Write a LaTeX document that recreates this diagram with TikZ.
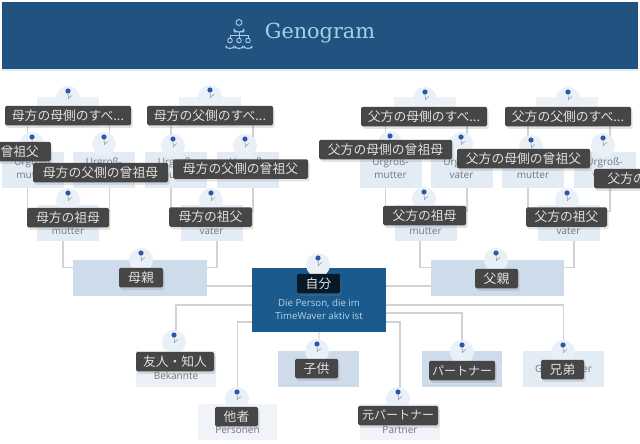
\documentclass[tikz,border=0pt]{standalone}
\usepackage{fontspec}
\setmainfont{Open Sans}
\newfontfamily\cjk{Noto Sans CJK JP}
\newfontfamily\slab{DejaVu Serif}
\usetikzlibrary{shadows}
\definecolor{hdr}{HTML}{22527F}
\definecolor{selfc}{HTML}{1B5A8C}
\definecolor{boxa}{HTML}{CEDBEB}
\definecolor{boxb}{HTML}{E3EBF4}
\definecolor{boxt}{HTML}{EDF2F7}
\definecolor{boxc}{HTML}{EAF0F5}
\definecolor{boxd}{HTML}{F0F3F7}
\definecolor{labc}{HTML}{464646}
\definecolor{linec}{HTML}{D2D2D0}
\definecolor{dotc}{HTML}{2F57A8}
\definecolor{circc}{HTML}{EAF0F8}
\definecolor{subt}{HTML}{6F7780}
\definecolor{ttl}{HTML}{A9CFE8}
\definecolor{selft}{HTML}{B5D3E8}
\tikzset{
  boxst/.style={inner sep=0pt,minimum width=#1,minimum height=36pt},
  ggbox/.style={boxst=62pt,fill=boxb},
  topbox/.style={boxst=62pt,fill=boxt,minimum height=30pt},
  subtext/.style={text=subt,font=\fontsize{10}{12.5}\selectfont,align=center,inner sep=0pt},
  lab/.style={fill=labc,rounded corners=1.5pt,text=white!88!black,inner sep=0pt,minimum width=#1,minimum height=19.5pt,
     font=\cjk\fontsize{12.8}{14}\selectfont,drop shadow={opacity=0.22,shadow xshift=1.5pt,shadow yshift=-2.5pt}},
  conn/.style={draw=linec,line width=1.1pt},
  icon/.style={draw=ttl,line width=0.9pt,fill=none},
}
\newcommand{\person}[3]{%
  \node[circle,fill=circc,minimum size=24pt,inner sep=0pt] (#1) at (#2,#3+7) {};
  \fill[dotc] (#2,#3) circle (2.6pt);
  \draw[subt!70,line width=0.6pt] (#2,#3+2) -- (#2+0.5,#3+8) (#2+0.5,#3+7) -- (#2+4,#3+4.5);
}
\begin{document}
\begin{tikzpicture}[x=1pt,y=-1pt]
\useasboundingbox (0,0) rectangle (640,444);
\clip (0,0) rectangle (640,444);
\fill[white] (0,0) rectangle (640,444);
% header
\node[fill=hdr,inner sep=0pt,minimum width=636pt,minimum height=67pt] (header) at (320,36) {};
\fill[ttl!40] (2,69.5) rectangle (638,71);
\node[text=ttl,font=\slab\fontsize{20.8}{24}\selectfont,inner sep=0pt] (title) at (320,33) {Genogram};
% icon
\begin{scope}[icon,line join=round]
\draw (239,22.5) circle (3);
\draw (234,32) -- (234,29) arc[start angle=180,end angle=360,radius=5,y radius=-3] -- (244,32) -- cycle;
\draw (239,32) -- (239,35) (230,38) -- (230,35) -- (248,35) -- (248,38) (239,35) -- (239,38);
\foreach \px in {230,239,248}{
  \draw (\px,40.5) circle (2.3);
  \draw (\px-4,48) -- (\px-4,46) arc[start angle=180,end angle=360,radius=4,y radius=-2.5] -- (\px+4,48) -- cycle;
}
\end{scope}
% boxes: top row
\node[topbox] (t1) at (68,112) {};
\node[topbox] (t2) at (210,112) {};
\node[topbox] (t3) at (425,112) {};
\node[topbox] (t4) at (567,112) {};
% great grandparents
\node[ggbox] (g1) at (32.5,169.5) {};
\node[ggbox] (g2) at (104,169.5) {};
\node[ggbox] (g3) at (176,169.5) {};
\node[ggbox] (g4) at (247.5,169.5) {};
\node[ggbox] (g5) at (390.5,169.5) {};
\node[ggbox] (g6) at (461.5,169.5) {};
\node[ggbox] (g7) at (533,169.5) {};
\node[ggbox] (g8) at (604.5,169.5) {};
% grandparents
\node[ggbox] (p1) at (68,223) {};
\node[ggbox] (p2) at (211.5,223) {};
\node[ggbox] (p3) at (426,223) {};
\node[ggbox] (p4) at (569,223) {};
% parents
\node[boxst=134pt,fill=boxa] (mother) at (140,278) {};
\node[boxst=133pt,fill=boxa] (father) at (497.5,278) {};
% bottom
\node[boxst=80pt,fill=boxc] (friend) at (176,368.5) {};
\node[boxst=81pt,fill=boxa] (child) at (318.5,368.5) {};
\node[boxst=80pt,fill=boxa] (partner) at (462,368.5) {};
\node[boxst=81pt,fill=boxb] (sibling) at (563.5,368.5) {};
\node[boxst=79pt,fill=boxd] (others) at (237.5,422) {};
\node[boxst=80pt,fill=boxd] (expart) at (400,422) {};
% self
\node[inner sep=0pt,fill=selfc,minimum width=134pt,minimum height=64pt] (self) at (319,300) {};
% connectors
\foreach \ta/\ga/\gb in {t1/g1/g2,t2/g3/g4,t3/g5/g6,t4/g7/g8}{
  \draw[conn] (\ta.west) -| ([xshift=-5pt]\ga.north);
  \draw[conn] (\ta.east) -| ([xshift=5.5pt]\gb.north);
}
\foreach \pa/\ga/\gb in {p1/g1/g2,p2/g3/g4,p3/g5/g6,p4/g7/g8}{
  \draw[conn] ([yshift=-7pt]\pa.north west) -| ([xshift=-5pt]\ga.south);
  \draw[conn] ([yshift=-7pt]\pa.north east) -| ([xshift=5.5pt]\gb.south);
}
\draw[conn] ([yshift=-8pt]mother.north west) -| ([xshift=-5pt]p1.south);
\draw[conn] ([yshift=-8pt]mother.north east) -| ([xshift=5.5pt]p2.south);
\draw[conn] ([yshift=-8pt]father.north west) -| ([xshift=-6pt]p3.south);
\draw[conn] ([yshift=-8pt]father.north east) -| ([xshift=5pt]p4.south);
\draw[conn] ([yshift=14pt]self.west) -- ([yshift=14pt]self.west -| mother.east);
\draw[conn] ([yshift=14pt]self.east) -- ([yshift=14pt]self.east -| father.west);
\draw[conn] ([yshift=-5pt]self.west) -| (friend.north);
\draw[conn] ([yshift=-22pt]self.west) -| (others.north);
\draw[conn] (self.south) -- (child.north);
\draw[conn] ([yshift=-5pt]self.east) -| (sibling.north);
\draw[conn] ([yshift=-13pt]self.east) -| (partner.north);
\draw[conn] ([yshift=-22pt]self.east) -| (expart.north);
% circles
\person{c1}{68}{91}\person{c2}{210}{90}\person{c3}{425}{92}\person{c4}{568}{92}
\person{c5}{32}{137}\person{c6}{104}{137}\person{c7}{173}{139}\person{c8}{245}{139}
\person{c9}{390}{136}\person{c10}{461}{137}\person{c11}{531}{140}\person{c12}{603}{138}
\person{c13}{68}{193}\person{c14}{211}{193}\person{c15}{424}{192}\person{c16}{567}{193}
\person{c17}{141}{253}\person{c18}{496}{253}\person{c19}{318}{258}
\person{c20}{174}{335}\person{c21}{317}{344}\person{c22}{462}{345}\person{c23}{563}{345}
\person{c24}{237}{392}\person{c25}{398}{392}
% sub text
\node[subtext] (s1) at (32.5,168) {Urgroß-\\mutter};
\node[subtext] (s2) at (104,168) {Urgroß-\\vater};
\node[subtext] (s3) at (176,168) {Urgroß-\\mutter};
\node[subtext] (s4) at (247.5,168) {Urgroß-\\vater};
\node[subtext] (s5) at (390.5,168) {Urgroß-\\mutter};
\node[subtext] (s6) at (461.5,168) {Urgroß-\\vater};
\node[subtext] (s7) at (533,168) {Urgroß-\\mutter};
\node[subtext] (s8) at (604.5,168) {Urgroß-\\vater};
\node[subtext] (s9) at (68,231) {mutter};
\node[subtext] (s10) at (211.5,231) {vater};
\node[subtext] (s11) at (425.5,231) {mutter};
\node[subtext] (s12) at (568.5,231) {vater};
\node[subtext] (s13) at (176,375.5) {Bekannte};
\node[subtext] (s14) at (237.5,429.5) {Personen};
\node[subtext] (s15) at (400,429.5) {Partner};
\node[subtext] (s16) at (563.5,369) {Geschwister};
\node[text=selft,font=\fontsize{9.7}{13}\selectfont,align=center,inner sep=0pt] (s17) at (319,309) {Die Person, die im\\TimeWaver aktiv ist};
% labels
\node[lab=126pt] (l1) at (68,115.5) {母方の母側のすべ...};
\node[lab=126pt] (l2) at (210,115.5) {母方の父側のすべ...};
\node[lab=62pt,anchor=east] (l3) at (51,151.5) {曾祖父};
\node[lab=135pt] (l4) at (100.5,172.5) {母方の父側の曾祖母};
\node[lab=135pt] (l5) at (240.5,169) {母方の父側の曾祖父};
\node[lab=82pt] (l6) at (68,217.5) {母方の祖母};
\node[lab=83pt] (l7) at (210.5,217) {母方の祖父};
\node[lab=126pt] (l8) at (424,116.5) {父方の母側のすべ...};
\node[lab=126pt] (l9) at (568,116.5) {父方の父側のすべ...};
\node[lab=133pt] (l10) at (385.5,149.5) {父方の母側の曾祖母};
\node[lab=133pt] (l11) at (523.5,158.5) {父方の母側の曾祖父};
\node[lab=60pt,anchor=west,align=left] (l12) at (594,178.5) {\hspace{5pt}父方の\hfill};
\node[lab=83pt] (l13) at (424.5,215.5) {父方の祖母};
\node[lab=81pt] (l14) at (566.5,217) {父方の祖父};
\node[lab=44pt] (l15) at (141,277.5) {母親};
\node[lab=43pt] (l16) at (496.5,278.5) {父親};
\node[lab=43pt,fill=black!72!selfc] (l17) at (318.5,283.5) {自分};
\node[lab=78pt] (l18) at (175,361.5) {友人・知人};
\node[lab=43pt] (l19) at (316.5,368.5) {子供};
\node[lab=43pt] (l20) at (236.5,416.5) {他者};
\node[lab=80pt,font=\cjk\fontsize{12}{14}\selectfont] (l21) at (398,415.5) {元パートナー};
\node[lab=66pt,font=\cjk\fontsize{12}{14}\selectfont] (l22) at (462,370.5) {パートナー};
\node[lab=43pt] (l23) at (562.5,369.5) {兄弟};
\end{tikzpicture}
\end{document}
